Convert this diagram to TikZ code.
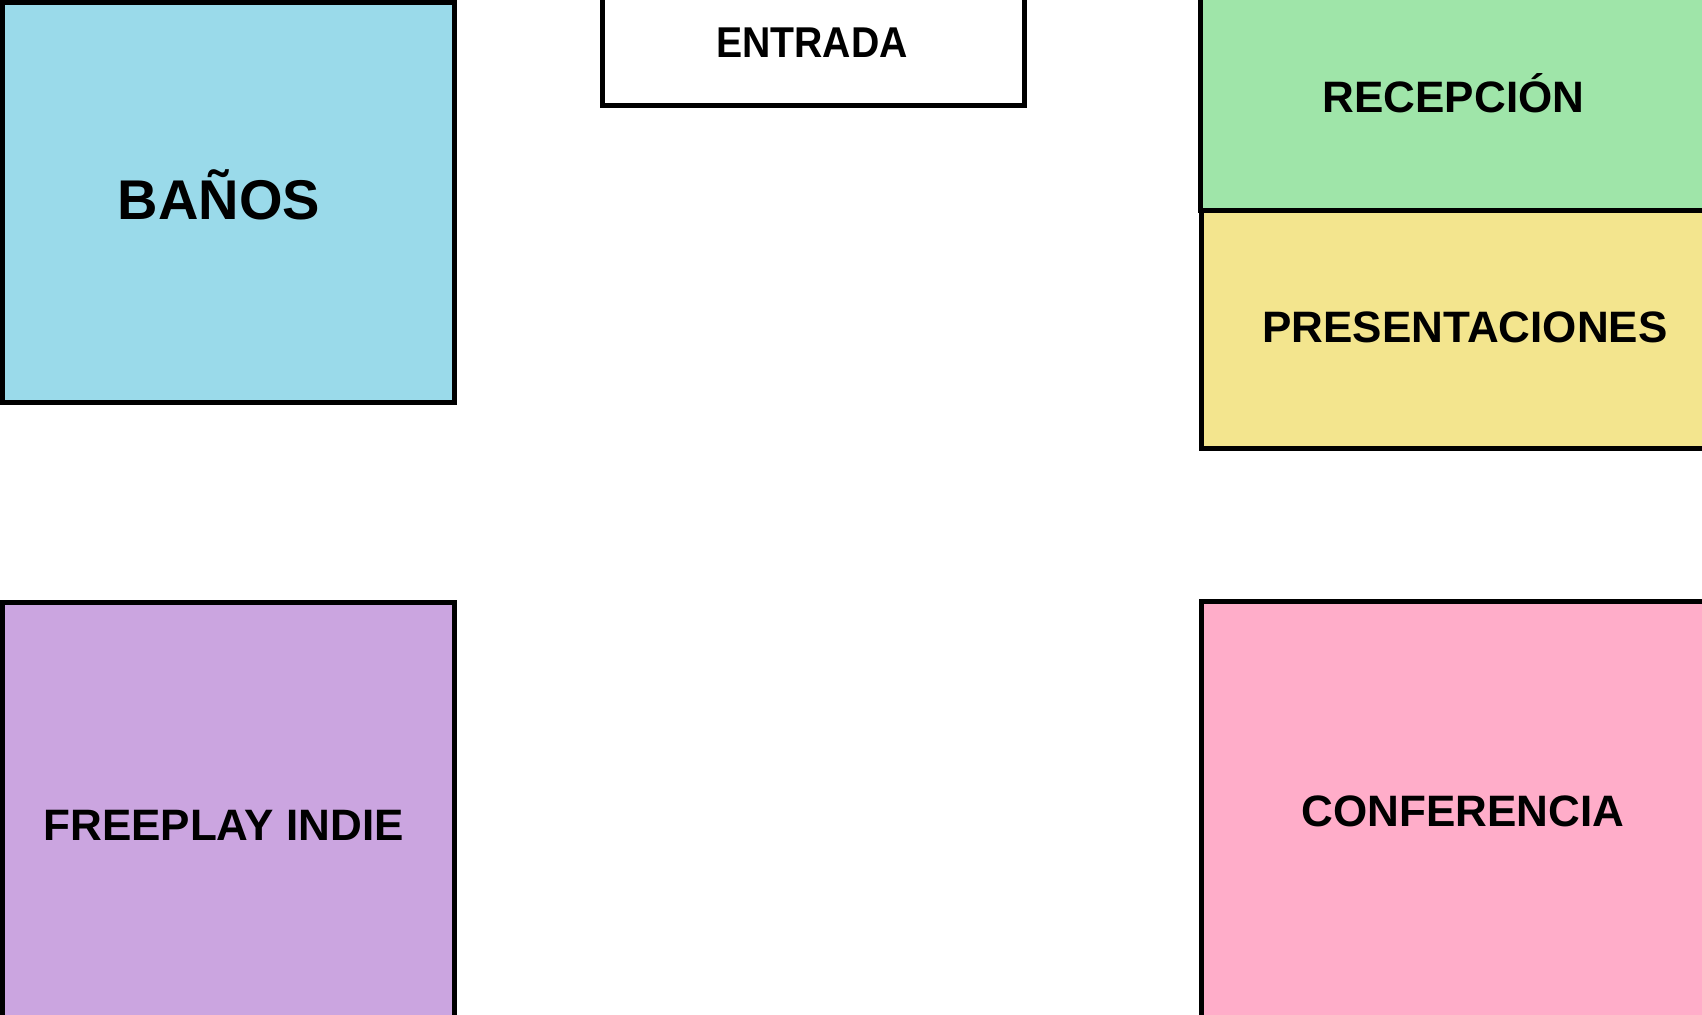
\documentclass[tikz,border=0pt]{standalone}
\usepackage{fontspec}
\usepackage{graphicx}
\setmainfont{Liberation Sans}
\definecolor{cbanos}{HTML}{9ADAEA}
\definecolor{crecep}{HTML}{9FE5A9}
\definecolor{cpres}{HTML}{F3E58E}
\definecolor{cfree}{HTML}{CBA5E0}
\definecolor{cconf}{HTML}{FFADC9}
\tikzset{
  room/.style={draw=black, line width=2.6pt, rectangle, inner sep=0pt, outer sep=0pt},
  lbl/.style={inner sep=0pt, anchor=base, font=\bfseries\fontsize{22pt}{26pt}\selectfont},
}
\begin{document}
\begin{tikzpicture}[x=0.5pt, y=-0.5pt]
\useasboundingbox (0,0) rectangle (1702,1014);
\clip (0,0) rectangle (1702,1014);
\fill[white] (0,0) rectangle (1702,1014);
\node[room, fill=cbanos, minimum width=226pt, minimum height=200.25pt] (banos) at (228.5,202.25) {};
\node[room, fill=white, minimum width=211pt, minimum height=57.75pt] (entrada) at (813.5,47.75) {};
\node[room, fill=crecep, minimum width=255.75pt, minimum height=110.25pt] (recep) at (1456.25,100.25) {};
\node[room, fill=cpres, minimum width=255.25pt, minimum height=119pt] (pres) at (1456.75,329.5) {};
\node[room, fill=cfree, minimum width=226pt, minimum height=211.25pt] (free) at (228.5,813.75) {};
\node[room, fill=cconf, minimum width=255.25pt, minimum height=211.75pt] (conf) at (1456.75,813.25) {};
\node[lbl, font=\bfseries\fontsize{28pt}{32pt}\selectfont] (tbanos) at (219,219.3) {BAÑOS};
\node[lbl, font=\bfseries\fontsize{19.6pt}{24pt}\selectfont] (tentrada) at (812,57.3) {\scalebox{1}[1.1]{ENTRADA}};
\node[lbl] (trecep) at (1453.5,112) {RECEPCIÓN};
\node[lbl] (tpres) at (1465,342.7) {PRESENTACIONES};
\node[lbl] (tfree) at (223.5,840) {FREEPLAY INDIE};
\node[lbl] (tconf) at (1463,826) {CONFERENCIA};
\end{tikzpicture}
\end{document}
